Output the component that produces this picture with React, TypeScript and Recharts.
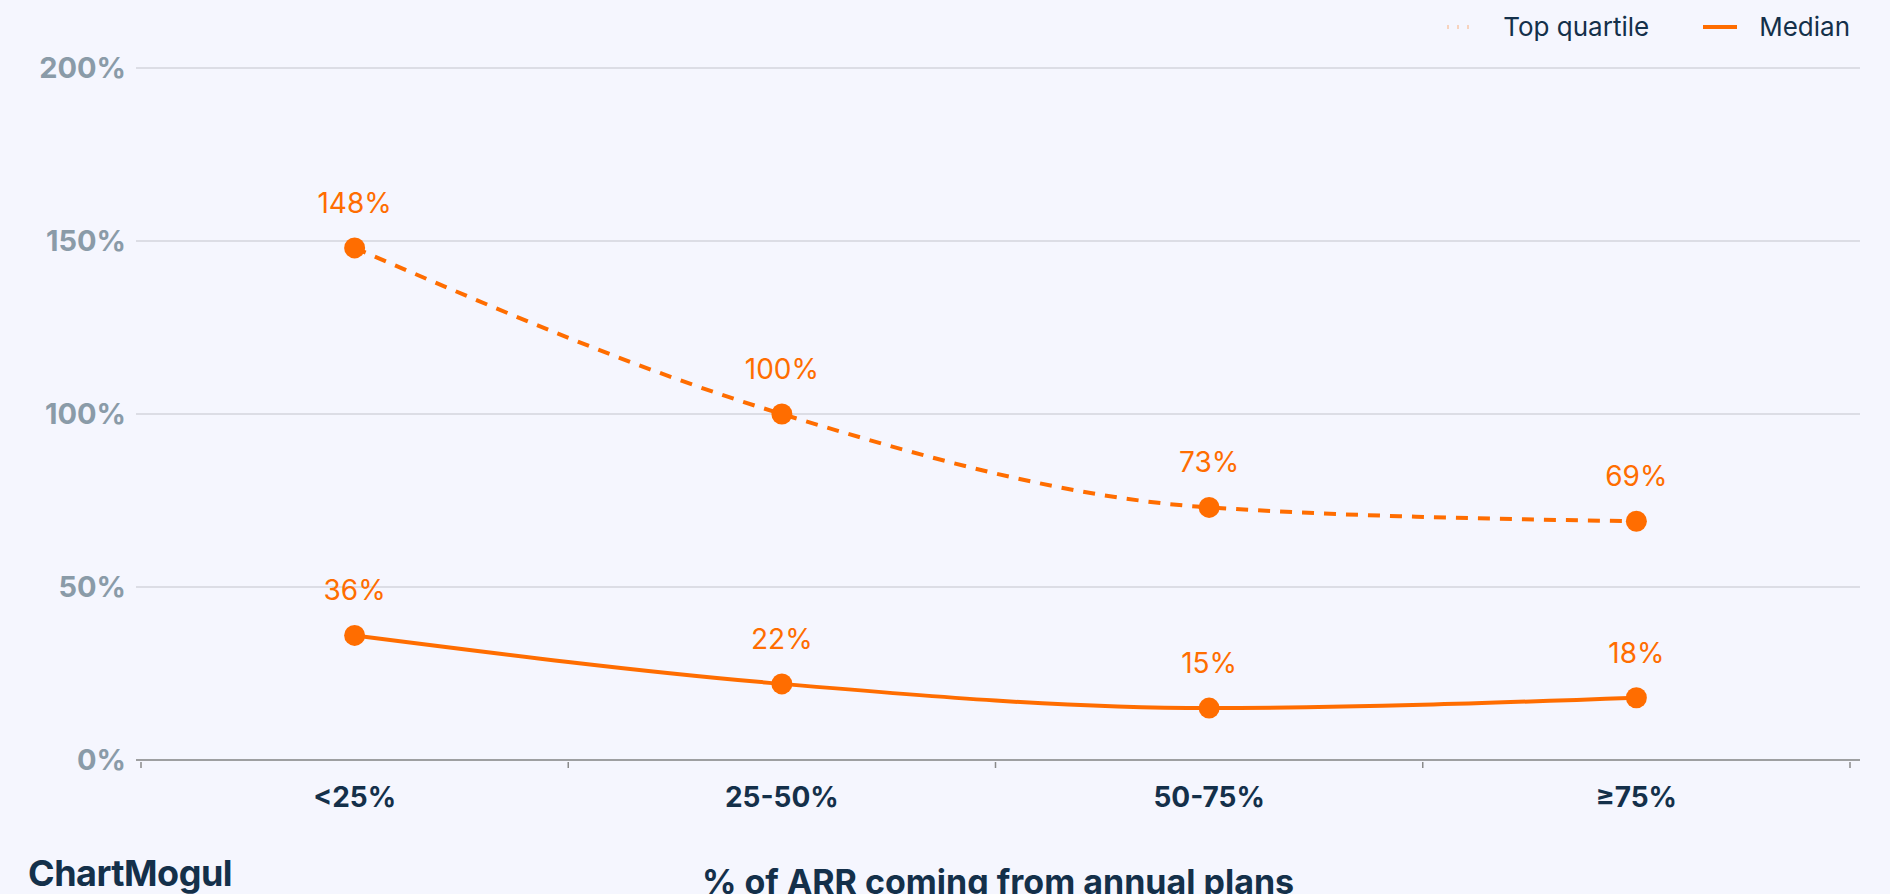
import { CartesianGrid, Label, LabelList, Line, LineChart, XAxis, YAxis } from "recharts";

const categories = ["<25%", "25-50%", "50-75%", "≥75%"];
const topQuartile = [148, 100, 73, 69];
const median = [36, 22, 15, 18];
const yTicks = [0, 50, 100, 150, 200];

const ORANGE = "#ff6d00";
const NAVY = "#14304a";
const BG = "#f5f6fe";
const FONT = "Inter, 'Noto Sans', sans-serif";

const data = categories.map((c, i) => ({
  x: i + 0.5,
  label: c,
  top: topQuartile[i],
  median: median[i],
}));

// x ticks: integer = band boundary (tick mark only), half = category label
const xTicks = [0, 0.5, 1, 1.5, 2, 2.5, 3, 3.5, 4];

function XTick({ x, y, payload }: any) {
  const v = payload.value as number;
  if (Number.isInteger(v)) {
    return <line x1={x} x2={x} y1={y - 6} y2={y} stroke="#8a8a8a" strokeWidth={1.5} />;
  }
  return (
    <text
      x={x}
      y={y + 29}
      textAnchor="middle"
      dominantBaseline="central"
      fill={NAVY}
      fontSize={28}
      fontWeight={700}
      fontFamily={FONT}
    >
      {categories[Math.floor(v)]}
    </text>
  );
}

function PointLabel({ x, y, value }: any) {
  return (
    <text
      x={x}
      y={y - 45}
      textAnchor="middle"
      dominantBaseline="central"
      fill={ORANGE}
      fontSize={28}
      fontFamily={FONT}
    >
      {value}%
    </text>
  );
}

function LegendBox() {
  const item = { display: "flex", alignItems: "center" } as const;
  return (
    <div
      style={{
        position: "absolute",
        top: 11,
        right: 40,
        display: "flex",
        alignItems: "center",
        fontFamily: FONT,
        fontSize: 26,
        color: NAVY,
        lineHeight: "32px",
      }}
    >
      <div style={item}>
        <svg width={28} height={6} style={{ marginRight: 28 }}>
          <line x1={0} x2={28} y1={3} y2={3} stroke={ORANGE} strokeOpacity={0.25} strokeWidth={4} strokeDasharray="2 8" />
        </svg>
        Top quartile
      </div>
      <div style={{ ...item, marginLeft: 54 }}>
        <svg width={34} height={6} style={{ marginRight: 22 }}>
          <line x1={0} x2={34} y1={3} y2={3} stroke={ORANGE} strokeWidth={4} />
        </svg>
        Median
      </div>
    </div>
  );
}

export default function App() {
  return (
    <div style={{ position: "fixed", left: 0, top: 0, width: 1890, height: 894, background: BG, overflow: "hidden" }}>
      <LineChart width={1890} height={894} data={data} margin={{ top: 68, right: 30, bottom: 0, left: 0 }}>
        <CartesianGrid vertical={false} stroke="#d3d5dc" strokeWidth={1.5} />
        <XAxis
          dataKey="x"
          type="number"
          domain={[0, 4]}
          ticks={xTicks}
          interval={0}
          padding={{ left: 5, right: 10 }}
          height={134}
          tickLine={false}
          axisLine={{ stroke: "#8a8a8a", strokeWidth: 1.5 }}
          tick={<XTick />}
        >
          <Label
            value="% of ARR coming from annual plans"
            position="insideBottom"
            offset={0}
            fill={NAVY}
            fontSize={34}
            fontWeight={700}
            fontFamily={FONT}
          />
        </XAxis>
        <YAxis
          domain={[0, 200]}
          ticks={yTicks}
          width={136}
          axisLine={false}
          tickLine={false}
          tickMargin={4}
          tickFormatter={(v) => `${v}%`}
          tick={{ fill: "#8a9ba8", fontSize: 29, fontWeight: 700, fontFamily: FONT }}
        />
        <Line
          type="monotone"
          dataKey="top"
          name="Top quartile"
          stroke={ORANGE}
          strokeWidth={4}
          strokeDasharray="12 10"
          dot={{ r: 10.5, fill: ORANGE, stroke: "none" }}
          activeDot={false}
          isAnimationActive={false}
        >
          <LabelList dataKey="top" content={<PointLabel />} />
        </Line>
        <Line
          type="monotone"
          dataKey="median"
          name="Median"
          stroke={ORANGE}
          strokeWidth={4}
          dot={{ r: 10.5, fill: ORANGE, stroke: "none" }}
          activeDot={false}
          isAnimationActive={false}
        >
          <LabelList dataKey="median" content={<PointLabel />} />
        </Line>
      </LineChart>
      <LegendBox />
      <div
        style={{
          position: "absolute",
          left: 28,
          top: 851,
          fontFamily: FONT,
          fontSize: 36,
          fontWeight: 700,
          color: NAVY,
          letterSpacing: -0.5,
        }}
      >
        ChartMogul
      </div>
    </div>
  );
}
